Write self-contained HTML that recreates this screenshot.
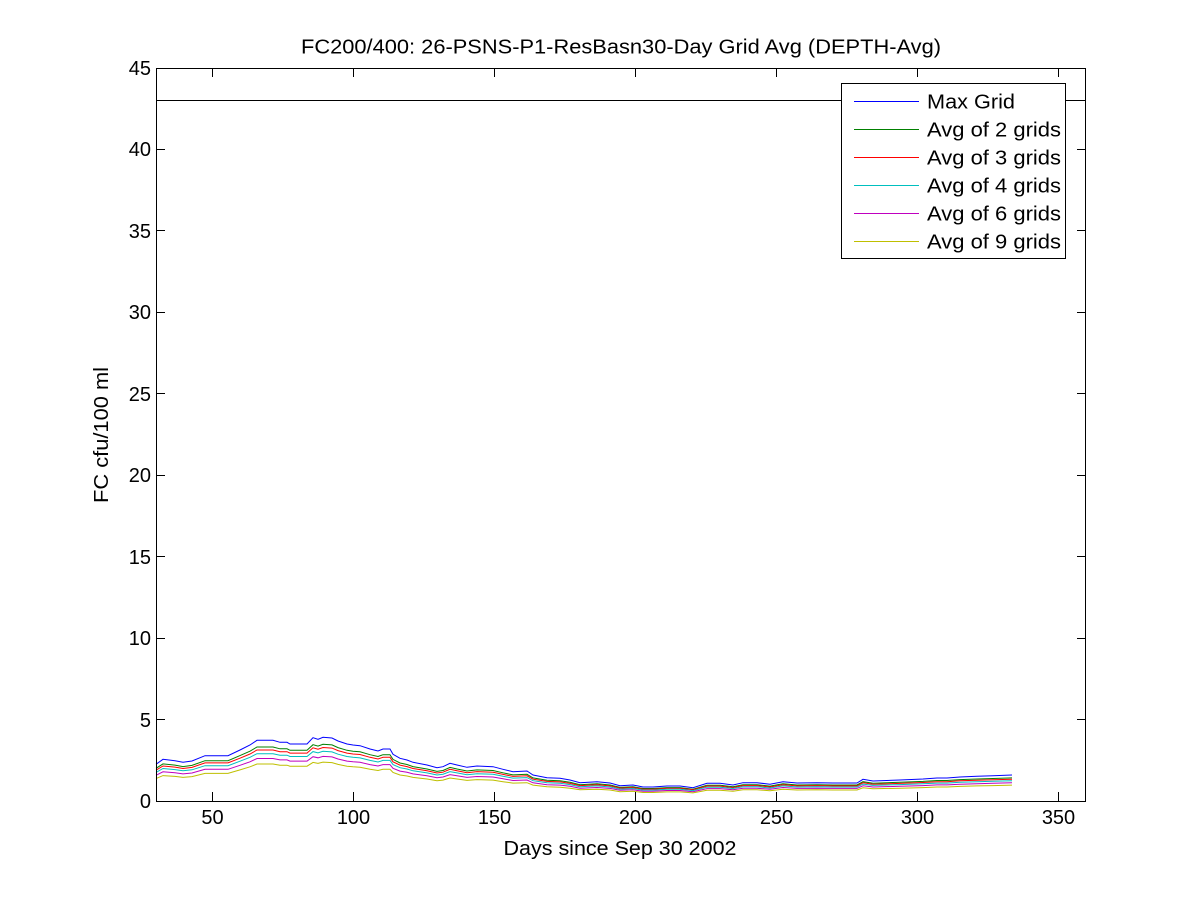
<!DOCTYPE html>
<html><head><meta charset="utf-8"><style>
html,body{margin:0;padding:0;background:#fff;}
svg{display:block;}
text{font-family:"Liberation Sans",Arial,sans-serif;fill:#000;}
</style></head><body>
<svg width="1200" height="901" viewBox="0 0 1200 901" xmlns="http://www.w3.org/2000/svg">
<rect x="0" y="0" width="1200" height="901" fill="#fff"/>
<text x="621" y="53.5" font-size="20" text-anchor="middle" textLength="640" lengthAdjust="spacingAndGlyphs">FC200/400: 26-PSNS-P1-ResBasn30-Day Grid Avg (DEPTH-Avg)</text>
<text x="620" y="855" font-size="20" text-anchor="middle" textLength="233" lengthAdjust="spacingAndGlyphs">Days since Sep 30 2002</text>
<text transform="translate(108,435) rotate(-90)" x="0" y="0" font-size="20" text-anchor="middle" textLength="136" lengthAdjust="spacingAndGlyphs">FC cfu/100 ml</text>

<g fill="none" stroke-width="1">
<polyline id="blue" stroke="#0000ff" points="156,764.3 163,759.3 175,760.7 183,762.3 192,761 205,755.7 228,755.7 240,750 250,745 257,740.3 273,740.3 280,742.3 287,742.3 290,744 307,744 313,737.7 318,739.3 323,737.3 332,738 338,741 347,744 353,745 360,745.7 370,749 378,751 383,749 390,749 393,754.3 400,758.3 407,760 413,762.3 427,765 437,767.7 443,766.7 450,763.3 457,765 467,767.3 477,766 493,766.7 503,769.3 513,771.7 527,771 533,775 547,777.7 560,778.3 570,780 580,782.7 597,781.7 610,783 620,785.7 633,785 643,787 653,787 667,786 680,786 693,787.7 707,783.3 720,783.3 733,785 743,782.7 757,782.7 770,784.3 783,781.7 797,783 817,782.7 833,783 857,783 863,779.3 873,781 900,780 923,779 937,778 947,778 960,777 977,776.3 993,775.7 1012,775"/>
</g>
<g id="others" fill="none" stroke-width="1"></g>

<!-- reference line at 43 -->
<rect x="156" y="100" width="930" height="1" fill="#000"/>

<!-- axes box -->
<rect x="156.5" y="68.5" width="929" height="733" fill="none" stroke="#000" stroke-width="1"/>

<!-- ticks -->
<g stroke="#000" stroke-width="1">
<line x1="156" y1="719.5" x2="165" y2="719.5"/><line x1="1077" y1="719.5" x2="1086" y2="719.5"/>
<line x1="156" y1="638.5" x2="165" y2="638.5"/><line x1="1077" y1="638.5" x2="1086" y2="638.5"/>
<line x1="156" y1="556.5" x2="165" y2="556.5"/><line x1="1077" y1="556.5" x2="1086" y2="556.5"/>
<line x1="156" y1="475.5" x2="165" y2="475.5"/><line x1="1077" y1="475.5" x2="1086" y2="475.5"/>
<line x1="156" y1="393.5" x2="165" y2="393.5"/><line x1="1077" y1="393.5" x2="1086" y2="393.5"/>
<line x1="156" y1="312.5" x2="165" y2="312.5"/><line x1="1077" y1="312.5" x2="1086" y2="312.5"/>
<line x1="156" y1="230.5" x2="165" y2="230.5"/><line x1="1077" y1="230.5" x2="1086" y2="230.5"/>
<line x1="156" y1="149.5" x2="165" y2="149.5"/><line x1="1077" y1="149.5" x2="1086" y2="149.5"/>
<line x1="212.5" y1="792" x2="212.5" y2="801"/><line x1="212.5" y1="68" x2="212.5" y2="77"/>
<line x1="353.5" y1="792" x2="353.5" y2="801"/><line x1="353.5" y1="68" x2="353.5" y2="77"/>
<line x1="494.5" y1="792" x2="494.5" y2="801"/><line x1="494.5" y1="68" x2="494.5" y2="77"/>
<line x1="635.5" y1="792" x2="635.5" y2="801"/><line x1="635.5" y1="68" x2="635.5" y2="77"/>
<line x1="776.5" y1="792" x2="776.5" y2="801"/><line x1="776.5" y1="68" x2="776.5" y2="77"/>
<line x1="917.5" y1="792" x2="917.5" y2="801"/><line x1="917.5" y1="68" x2="917.5" y2="77"/>
<line x1="1058.5" y1="792" x2="1058.5" y2="801"/><line x1="1058.5" y1="68" x2="1058.5" y2="77"/>
</g>

<g font-size="20" text-anchor="end">
<text x="151" y="808">0</text>
<text x="151" y="727">5</text>
<text x="151" y="645">10</text>
<text x="151" y="564">15</text>
<text x="151" y="482">20</text>
<text x="151" y="401">25</text>
<text x="151" y="319">30</text>
<text x="151" y="238">35</text>
<text x="151" y="156">40</text>
<text x="151" y="75">45</text>
</g>
<g font-size="20" text-anchor="middle">
<text x="212.5" y="824">50</text>
<text x="353.5" y="824">100</text>
<text x="494.5" y="824">150</text>
<text x="635.5" y="824">200</text>
<text x="776.5" y="824">250</text>
<text x="917.5" y="824">300</text>
<text x="1058.5" y="824">350</text>
</g>

<!-- legend -->
<rect x="841.5" y="83.5" width="224" height="175" fill="#fff" stroke="#000" stroke-width="1"/>
<rect x="854" y="101" width="65" height="1" fill="#0000ff"/>
<rect x="854" y="129" width="65" height="1" fill="#008000"/>
<rect x="854" y="157" width="65" height="1" fill="#ff0000"/>
<rect x="854" y="185" width="65" height="1" fill="#00bfbf"/>
<rect x="854" y="213" width="65" height="1" fill="#bf00bf"/>
<rect x="854" y="241" width="65" height="1" fill="#bfbf00"/>
<g font-size="20">
<text x="927" y="108.5" textLength="88" lengthAdjust="spacingAndGlyphs">Max Grid</text>
<text x="927" y="136.5" textLength="134" lengthAdjust="spacingAndGlyphs">Avg of 2 grids</text>
<text x="927" y="164.5" textLength="134" lengthAdjust="spacingAndGlyphs">Avg of 3 grids</text>
<text x="927" y="192.5" textLength="134" lengthAdjust="spacingAndGlyphs">Avg of 4 grids</text>
<text x="927" y="220.5" textLength="134" lengthAdjust="spacingAndGlyphs">Avg of 6 grids</text>
<text x="927" y="248.5" textLength="134" lengthAdjust="spacingAndGlyphs">Avg of 9 grids</text>
</g>

<script>
(function(){
  var pts = document.getElementById('blue').getAttribute('points').trim().split(/\s+/).map(function(p){var a=p.split(',');return [parseFloat(a[0]),parseFloat(a[1])];});
  var series = [["#008000",0.89],["#ff0000",0.84],["#00bfbf",0.78],["#bf00bf",0.70],["#bfbf00",0.61]];
  var g = document.getElementById('others');
  var ns = "http://www.w3.org/2000/svg";
  series.forEach(function(s){
    var pl = document.createElementNS(ns,'polyline');
    pl.setAttribute('stroke', s[0]);
    pl.setAttribute('points', pts.map(function(p){return p[0]+','+(801-(801-p[1])*s[1]).toFixed(1);}).join(' '));
    g.appendChild(pl);
  });
})();
</script>
</svg>
</body></html>
